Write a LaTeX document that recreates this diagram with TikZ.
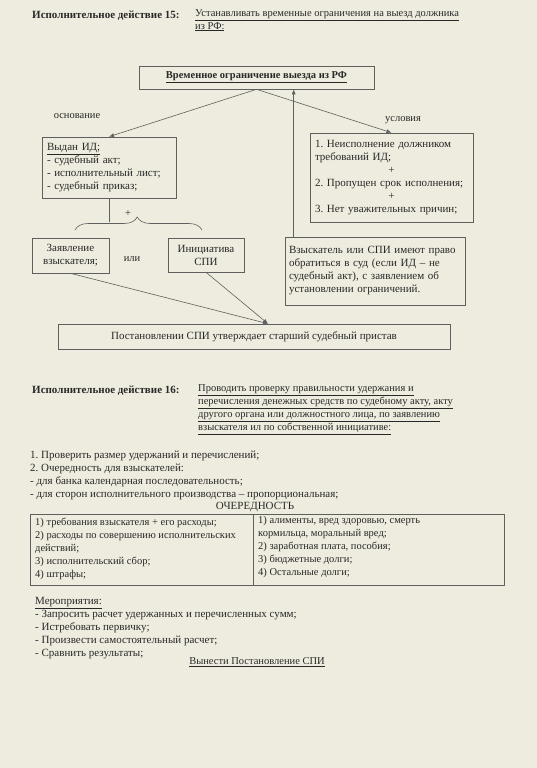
\documentclass[tikz,border=0pt]{standalone}
\usepackage{fontspec}
\setmainfont{Liberation Serif}
\usetikzlibrary{arrows.meta,decorations.pathreplacing}
\definecolor{paper}{RGB}{238,236,222}
\definecolor{ink}{RGB}{40,40,40}
\definecolor{rulec}{RGB}{95,95,95}
\newcommand\fs{\fontsize{11}{13}\selectfont\frenchspacing}
\newcommand\fsb{\fontsize{10.5}{13}\selectfont\frenchspacing}
\newcommand\fss{\fontsize{10.5}{13}\selectfont\frenchspacing}
\begin{document}
\begin{tikzpicture}[x=1pt,y=-1pt,
  txt/.style={inner sep=0pt, align=left, font=\fs, text=ink},
  boxn/.style={draw=rulec, line width=0.6pt, inner sep=5pt, font=\fs, text=ink},
  conn/.style={draw=rulec, line width=0.6pt},
  arr/.style={conn, -{Latex[length=5pt,width=4pt]}},
]
\fill[paper] (0,0) rectangle (537,768);
\useasboundingbox (0,0) rectangle (537,768);

% ---- Section 15 ----
\node[txt, anchor=west, font=\fs\bfseries] (h15) at (32,16) {Исполнительное действие 15:};
\node[txt, anchor=north west, font=\fsb] (s15) at (195,9) {\underline{Устанавливать временные ограничения на выезд должника}\\\underline{из РФ:}};

\node[boxn, minimum width=235, minimum height=23, font=\fsb] (top) at (256.5,77.5) {\bfseries\underline{Временное ограничение выезда из РФ}};

\node[txt, font=\fsb] (osn) at (77,116) {основание};
\node[txt, font=\fsb] (usll) at (403,120) {условия};

\node[boxn, text width=124, minimum height=61, align=left] (vydan) at (109,167.5)
  {\underline{Выдан ИД;}\\- судебный акт;\\- исполнительный лист;\\- судебный приказ;};

\node[boxn, text width=153, minimum height=89, align=left] (usl) at (391.5,177.5)
  {1. Неисполнение должником\\требований ИД;\\\makebox[\linewidth]{+}\\2. Пропущен срок исполнения;\\\makebox[\linewidth]{+}\\3. Нет уважительных причин;};

\node[boxn, minimum width=77, minimum height=35, align=center, inner sep=2pt] (zayav) at (70.5,255.5) {Заявление\\взыскателя;};
\node[txt, font=\fsb] (ili) at (132,259) {или};
\node[boxn, minimum width=76, minimum height=34, align=center, inner sep=2pt] (init) at (206,255) {Инициатива\\СПИ};

\node[boxn, text width=172, minimum height=68, align=left, inner sep=4pt] (vzysk) at (375,271)
  {Взыскатель или СПИ имеют право\\обратиться в суд (если ИД – не\\судебный акт), с заявлением об\\установлении ограничений.};

\node[boxn, minimum width=392, minimum height=25] (post) at (254,336.5) {Постановлении СПИ утверждает старший судебный пристав};

\draw[arr] (top.south) -- (vydan.north);
\draw[arr] (top.south) -- (usl.north);
\draw[arr] ([xshift=9pt]vzysk.north west) -- ([xshift=9pt]vzysk.north west |- top.south);
\draw[conn] (vydan.south) -- ++(0,24) coordinate (vend);
\draw[conn, decorate, decoration={brace, amplitude=13pt, aspect=0.49}] (75,230) -- (202,230);
\node[txt, font=\fss] (plus) at (128,214) {+};
\draw[arr] (zayav.south) -- ([xshift=14pt]post.north);
\draw[arr] (init.south) -- ([xshift=14pt]post.north);

% ---- Section 16 ----
\node[txt, anchor=west, font=\fs\bfseries] (h16) at (32,391) {Исполнительное действие 16:};
\node[txt, anchor=north west, font=\fsb] (s16) at (198,384.5) {\underline{Проводить проверку правильности удержания и}\\\underline{перечисления денежных средств по судебному акту, акту}\\\underline{другого органа или должностного лица, по заявлению}\\\underline{взыскателя ил по собственной инициативе:}};

\node[txt, anchor=north west] (list) at (30,450.5) {1. Проверить размер удержаний и перечислений;\\2. Очередность для взыскателей:\\- для банка календарная последовательность;\\- для сторон исполнительного производства – пропорциональная;};

\node[txt] (och) at (255,507) {ОЧЕРЕДНОСТЬ};

\node[draw=rulec, line width=0.6pt, minimum width=474, minimum height=71, inner sep=0pt] (tab) at (267,549.5) {};
\draw[conn] ([xshift=-14pt]tab.north) -- ([xshift=-14pt]tab.south);
\node[txt, anchor=north west, font=\fss] (tl) at (35,517.5) {1) требования взыскателя + его расходы;\\2) расходы по совершению исполнительских\\действий;\\3) исполнительский сбор;\\4) штрафы;};
\node[txt, anchor=north west, font=\fss] (tr) at (258,516.5) {1) алименты, вред здоровью, смерть\\кормильца, моральный вред;\\2) заработная плата, пособия;\\3) бюджетные долги;\\4) Остальные долги;};

\node[txt, anchor=north west] (mer) at (35,597.5) {\underline{Мероприятия:}\\- Запросить расчет удержанных и перечисленных сумм;\\- Истребовать первичку;\\- Произвести самостоятельный расчет;\\- Сравнить результаты;};
\node[txt, font=\fsb] (vyn) at (257,662) {\underline{Вынести Постановление СПИ}};
\end{tikzpicture}
\end{document}
